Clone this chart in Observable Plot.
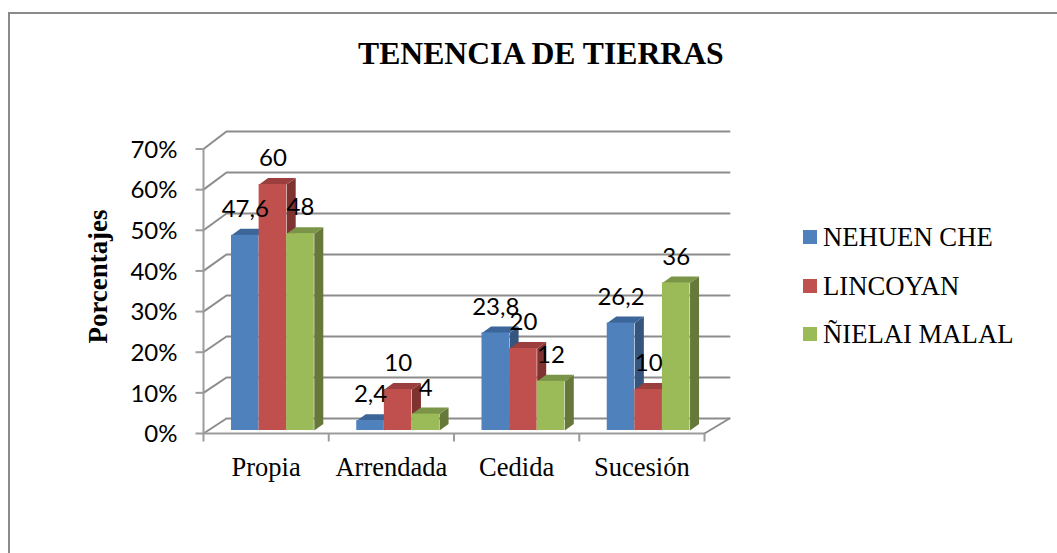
<!DOCTYPE html>
<html lang="es">
<head>
<meta charset="utf-8">
<script src="https://cdn.jsdelivr.net/npm/d3@7"></script>
<script src="https://cdn.jsdelivr.net/npm/@observablehq/plot@0.6"></script>
<style>
  html, body { margin: 0; padding: 0; background: #fff; }
  body { position: relative; width: 1057px; height: 553px; overflow: hidden; }
  #frame { position: absolute; left: 8px; top: 12px; width: 1060px; height: 560px;
           border: 2px solid #8a8a8a; box-sizing: border-box; }
  #title { position: relative; height: 90px; width: 1057px; box-sizing: border-box; margin: 0;
           padding-top: 35px; padding-left: 358px;
           font: bold 31.7px/38px "Liberation Serif", serif; color: #000; white-space: nowrap; }
  #chart { position: relative; height: 463px; }
  #chart svg { display: block; background: transparent; }
  #legend { position: absolute; left: 803px; top: 212px; font: 26.7px/28px "Liberation Serif", serif; color: #000; }
  #legend div { position: absolute; left: 0; white-space: nowrap; }
  #legend i { position: absolute; left: 0; top: 7px; width: 14px; height: 14px; }
  #legend span { position: absolute; left: 20px; top: 0; }
</style>
</head>
<body>
<div id="frame"></div>
<h1 id="title">TENENCIA DE TIERRAS</h1>
<div id="chart"></div>
<div id="legend"></div>
<script>
const categories = ["Propia", "Arrendada", "Cedida", "Sucesión"];
const seriesNames = ["NEHUEN CHE", "LINCOYAN", "ÑIELAI MALAL"];
const nehuenChe = [47.6, 2.4, 23.8, 26.2];
const lincoyan = [60, 10, 20, 10];
const nielaiMalal = [48, 4, 12, 36];
const valueLabels = [
  ["47,6", "2,4", "23,8", "26,2"],
  ["60", "10", "20", "10"],
  ["48", "4", "12", "36"]
];
const yTicks = [0, 10, 20, 30, 40, 50, 60, 70];

const frontColors = ["#4F81BD", "#C0504D", "#9BBB59"];
const sideColors = ["#35557F", "#7F3331", "#66793A"];
const topColors = ["#3C659A", "#9A3F3D", "#7A9547"];
const seriesValues = [nehuenChe, lincoyan, nielaiMalal];

// scale factors: one x unit is one category, one y unit is one percentage point
const pxX = 501 / 4, pxY = 287 / 70;
const ux = (px) => px / pxX, uy = (px) => px / pxY;
const barStart = ux(28), barW = ux(27.6);
const depthX = ux(9), depthY = uy(6.5);
const frontY = (v) => uy(-3) + v * (284.5 / 287);   // the front plane of the 3D box
const backY = (v) => uy(12) + v;                    // the back wall
const backX0 = ux(23), backX1 = 4 + ux(25);

const grey = "#8C8C8C";
const axisGrey = "#9C9C9C";

// grid: from the front axis, up the side wall, along the back wall
const gridPts = yTicks.flatMap((v) => [
  {k: v, x: 0, y: frontY(v)},
  {k: v, x: backX0, y: backY(v)},
  {k: v, x: backX1, y: backY(v)}
]);
const floorRight = [{x: 4, y: frontY(0)}, {x: backX1, y: backY(0)}];
const axisLeft = [{x: 0, y: frontY(0)}, {x: 0, y: frontY(70)}];
const axisBottom = [{x: 0, y: frontY(0)}, {x: 4, y: frontY(0)}];

const bars = seriesValues.map((vals, s) => vals.map((v, c) => {
  const x1 = c + barStart + s * barW, x2 = x1 + barW;
  return {c, s, v, x1, x2, label: valueLabels[s][c], cat: categories[c]};
}));

const faceMarks = bars.flatMap((row, s) => {
  const side = row.flatMap((b) => [
    {k: b.c, x: b.x2, y: 0},
    {k: b.c, x: b.x2 + depthX, y: depthY},
    {k: b.c, x: b.x2 + depthX, y: b.v + depthY},
    {k: b.c, x: b.x2, y: b.v}
  ]);
  const top = row.flatMap((b) => [
    {k: b.c, x: b.x1, y: b.v},
    {k: b.c, x: b.x1 + depthX, y: b.v + depthY},
    {k: b.c, x: b.x2 + depthX, y: b.v + depthY},
    {k: b.c, x: b.x2, y: b.v}
  ]);
  return [
    Plot.line(side, {x: "x", y: "y", z: "k", fill: sideColors[s], stroke: "none"}),
    Plot.line(top, {x: "x", y: "y", z: "k", fill: topColors[s], stroke: "none"}),
    Plot.rectY(row, {x1: "x1", x2: "x2", y1: 0, y2: "v", fill: frontColors[s], inset: 0})
  ];
});

const labelRows = bars.flat();
const lato = "Lato, sans-serif", serif = '"Liberation Serif", serif';

const plot = Plot.plot({
  width: 1057,
  height: 463,
  marginLeft: 203,
  marginRight: 353,
  marginTop: 53,
  marginBottom: 123,
  x: {type: "linear", domain: [0, 4], axis: null},
  y: {type: "linear", domain: [0, 70], axis: null},
  marks: [
    Plot.line(gridPts, {x: "x", y: "y", z: "k", stroke: grey, strokeWidth: 2, curve: "linear"}),
    Plot.line(floorRight, {x: "x", y: "y", stroke: grey, strokeWidth: 2}),
    Plot.line(axisLeft, {x: "x", y: "y", stroke: axisGrey, strokeWidth: 2}),
    Plot.line(axisBottom, {x: "x", y: "y", stroke: axisGrey, strokeWidth: 2}),
    Plot.link(yTicks, {x1: ux(-8), x2: 0, y1: frontY, y2: frontY, stroke: axisGrey, strokeWidth: 2}),
    Plot.link(d3.range(5), {x1: (d) => d, x2: (d) => d, y1: frontY(0), y2: frontY(0) - uy(8), stroke: axisGrey, strokeWidth: 2}),
    ...faceMarks,
    Plot.text(labelRows, {
      x: (b) => (b.x1 + b.x2) / 2, y: (b) => b.v + uy(26), text: "label",
      fontFamily: lato, fontSize: 24, fill: "#000", textAnchor: "middle", lineAnchor: "middle"
    }),
    Plot.text(yTicks, {
      x: ux(-26), y: frontY, dy: 1, text: (d) => d + "%",
      fontFamily: lato, fontSize: 24, fill: "#000", textAnchor: "end", lineAnchor: "middle"
    }),
    Plot.text(categories, {
      x: (d, i) => i + 0.5, y: frontY(0) - uy(34), text: (d) => d,
      fontFamily: serif, fontSize: 26.5, fill: "#000", textAnchor: "middle", lineAnchor: "middle"
    }),
    Plot.text(["Porcentajes"], {
      x: ux(-105), y: uy(154), text: (d) => d, rotate: -90,
      fontFamily: serif, fontWeight: "bold", fontSize: 26.9, fill: "#000", textAnchor: "middle", lineAnchor: "middle"
    })
  ]
});
document.getElementById("chart").appendChild(plot);

const legend = document.getElementById("legend");
seriesNames.forEach((name, i) => {
  const row = document.createElement("div");
  row.style.top = (i * 48.5 + 11) + "px";
  const sw = document.createElement("i");
  sw.style.background = frontColors[i];
  const t = document.createElement("span");
  t.textContent = name;
  row.append(sw, t);
  legend.appendChild(row);
});
</script>
</body>
</html>
